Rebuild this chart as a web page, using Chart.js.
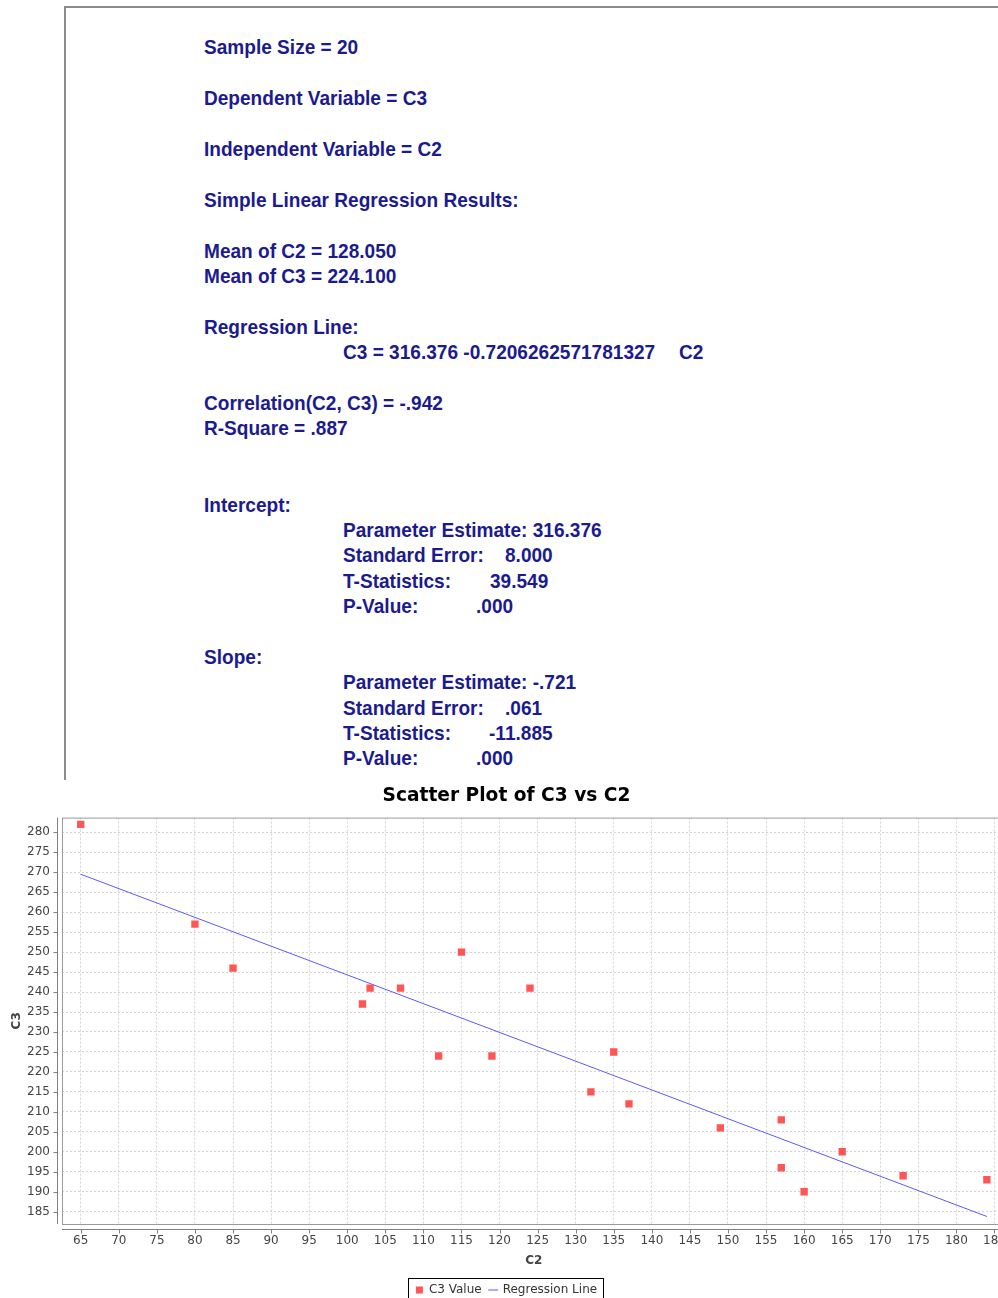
<!DOCTYPE html>
<html>
<head>
<meta charset="utf-8">
<script src="https://cdn.jsdelivr.net/npm/chart.js@4.4.1/dist/chart.umd.min.js"></script>
<style>
  body { margin: 0; width: 998px; height: 1298px; overflow: hidden; background: #fff; position: relative; }
  #panel { position: absolute; left: 64px; top: 6px; width: 960px; height: 772px;
           border-left: 2px solid #8c8c8c; border-top: 2px solid #8c8c8c; }
  .t { position: absolute; white-space: pre; font-family: "Liberation Sans", Arial, sans-serif;
       font-weight: bold; font-size: 20.5px; line-height: 24px; color: #1b1b8e;
       transform: scaleX(0.93); transform-origin: left center; }
  #wrap { position: absolute; left: 0; top: 780px; }
</style>
</head>
<body>
<div id="panel"></div>
<div id="stats"></div>
<div id="wrap"><canvas id="chart" width="1016" height="528"></canvas></div>
<script>
// data
const c2Values = [65, 80, 85, 102, 103, 107, 115, 112, 119, 124, 135, 132, 137, 149, 157, 157, 160, 165, 173, 184];
const c3Values = [282, 257, 246, 237, 241, 241, 250, 224, 224, 241, 225, 215, 212, 206, 208, 196, 190, 200, 194, 193];
const lineX = [65, 184];
const lineY = [269.5, 183.8];
const seriesNames = ["C3 Value", "Regression Line"];

// regression output text: [text, left, centre y]
const statLines = [
  ["Sample Size = 20", 204, 46.5],
  ["Dependent Variable = C3", 204, 97.5],
  ["Independent Variable = C2", 204, 148.5],
  ["Simple Linear Regression Results:", 204, 199.5],
  ["Mean of C2 = 128.050", 204, 250.5],
  ["Mean of C3 = 224.100", 204, 276],
  ["Regression Line:", 204, 326.5],
  ["C3 = 316.376 -0.7206262571781327", 343, 351.5],
  ["C2", 679, 351.5],
  ["Correlation(C2, C3) = -.942", 204, 402.5],
  ["R-Square = .887", 204, 428],
  ["Intercept:", 204, 504.5],
  ["Parameter Estimate: 316.376", 343, 530],
  ["Standard Error:", 343, 555], ["8.000", 505, 555],
  ["T-Statistics:", 343, 580.5], ["39.549", 490, 580.5],
  ["P-Value:", 343, 606], [".000", 476, 606],
  ["Slope:", 204, 657],
  ["Parameter Estimate: -.721", 343, 682],
  ["Standard Error:", 343, 707.5], [".061", 505, 707.5],
  ["T-Statistics:", 343, 733], ["-11.885", 489, 733],
  ["P-Value:", 343, 758], [".000", 476, 758],
];

const stats = document.getElementById("stats");
statLines.forEach(([text, x, y]) => {
  const d = document.createElement("div");
  d.className = "t";
  d.textContent = text;
  d.style.left = x + "px";
  d.style.top = (y - 12) + "px";
  stats.appendChild(d);
});

// plot outline, offset axis lines and tick marks, legend frame
const frames = {
  id: "frames",
  afterDraw(chart) {
    const { ctx, chartArea: a, scales: { x, y } } = chart;
    ctx.save();
    ctx.lineWidth = 1;
    ctx.strokeStyle = "#9a9a9a";
    ctx.strokeRect(a.left + 0.5, a.top + 0.5, a.right - a.left, a.bottom - a.top);

    ctx.strokeStyle = "#808080";
    ctx.beginPath();
    const ax = a.left - 4.5;
    ctx.moveTo(ax, a.top);
    ctx.lineTo(ax, a.bottom);
    y.ticks.forEach((t) => {
      const py = Math.round(y.getPixelForValue(t.value)) + 0.5;
      ctx.moveTo(ax - 4, py);
      ctx.lineTo(ax, py);
    });
    const ay = a.bottom + 5.5;
    ctx.moveTo(a.left, ay);
    ctx.lineTo(a.right, ay);
    x.ticks.forEach((t) => {
      const px = Math.round(x.getPixelForValue(t.value)) + 0.5;
      ctx.moveTo(px, ay);
      ctx.lineTo(px, ay + 4);
    });
    ctx.stroke();

    const boxes = chart.legend.legendHitBoxes;
    if (boxes && boxes.length) {
      const left = Math.min(...boxes.map((b) => b.left)) - 8;
      const right = Math.max(...boxes.map((b) => b.left + b.width)) + 6;
      const top = chart.legend.top + 2;
      ctx.strokeStyle = "#000";
      ctx.strokeRect(Math.round(left) + 0.5, Math.round(top) + 0.5, Math.round(right - left), 40);
    }
    ctx.restore();
  },
};

const gridStyle = {
  color: "#d4d4d4",
  lineWidth: 1,
  drawTicks: false,
};

new Chart(document.getElementById("chart"), {
  type: "scatter",
  data: {
    datasets: [
      {
        label: seriesNames[0],
        data: c2Values.map((v, i) => ({ x: v, y: c3Values[i] })),
        pointStyle: "rect",
        pointRadius: 5.2,
        pointHoverRadius: 5.2,
        borderWidth: 0,
        backgroundColor: "#ff5555",
        borderColor: "#ff5555",
      },
      {
        label: seriesNames[1],
        type: "line",
        data: lineX.map((v, i) => ({ x: v, y: lineY[i] })),
        showLine: true,
        pointRadius: 0,
        pointStyle: "line",
        borderColor: "#5a5aff",
        backgroundColor: "#5a5aff",
        borderWidth: 1,
        fill: false,
      },
    ],
  },
  options: {
    responsive: false,
    animation: false,
    devicePixelRatio: 1,
    layout: { padding: { left: 0, right: 3, top: 0, bottom: 2 } },
    scales: {
      x: {
        type: "linear",
        min: 62.54,
        max: 186.47,
        border: { display: false, dash: [2, 2] },
        grid: gridStyle,
        afterFit: (s) => { s.height = 52; },
        ticks: {
          stepSize: 5,
          includeBounds: false,
          autoSkip: false,
          maxRotation: 0,
          padding: 10,
          color: "#444",
          font: { family: "DejaVu Sans", size: 12 },
        },
        title: {
          display: true,
          text: "C2",
          color: "#444",
          font: { family: "DejaVu Sans", size: 12, weight: "bold" },
          padding: { top: 0, bottom: 8 },
        },
      },
      y: {
        min: 181.92,
        max: 283.68,
        border: { display: false, dash: [2, 2] },
        grid: gridStyle,
        afterFit: (s) => { s.width = 62; },
        ticks: {
          stepSize: 5,
          includeBounds: false,
          padding: 12,
          color: "#444",
          font: { family: "DejaVu Sans", size: 12 },
        },
        title: {
          display: true,
          text: "C3",
          color: "#444",
          font: { family: "DejaVu Sans", size: 12, weight: "bold" },
          padding: { top: 10, bottom: 0 },
        },
      },
    },
    plugins: {
      title: {
        display: true,
        text: "Scatter Plot of C3 vs C2",
        color: "#000",
        font: { family: "DejaVu Sans", size: 18.6, weight: "bold" },
        padding: { top: 5, bottom: 10.3 },
      },
      legend: {
        position: "bottom",
        labels: {
          usePointStyle: true,
          boxWidth: 7,
          boxHeight: 7,
          padding: 8,
          color: "#333",
          font: { family: "DejaVu Sans", size: 12 },
        },
      },
      tooltip: { enabled: false },
    },
  },
  plugins: [frames],
});
</script>
</body>
</html>
